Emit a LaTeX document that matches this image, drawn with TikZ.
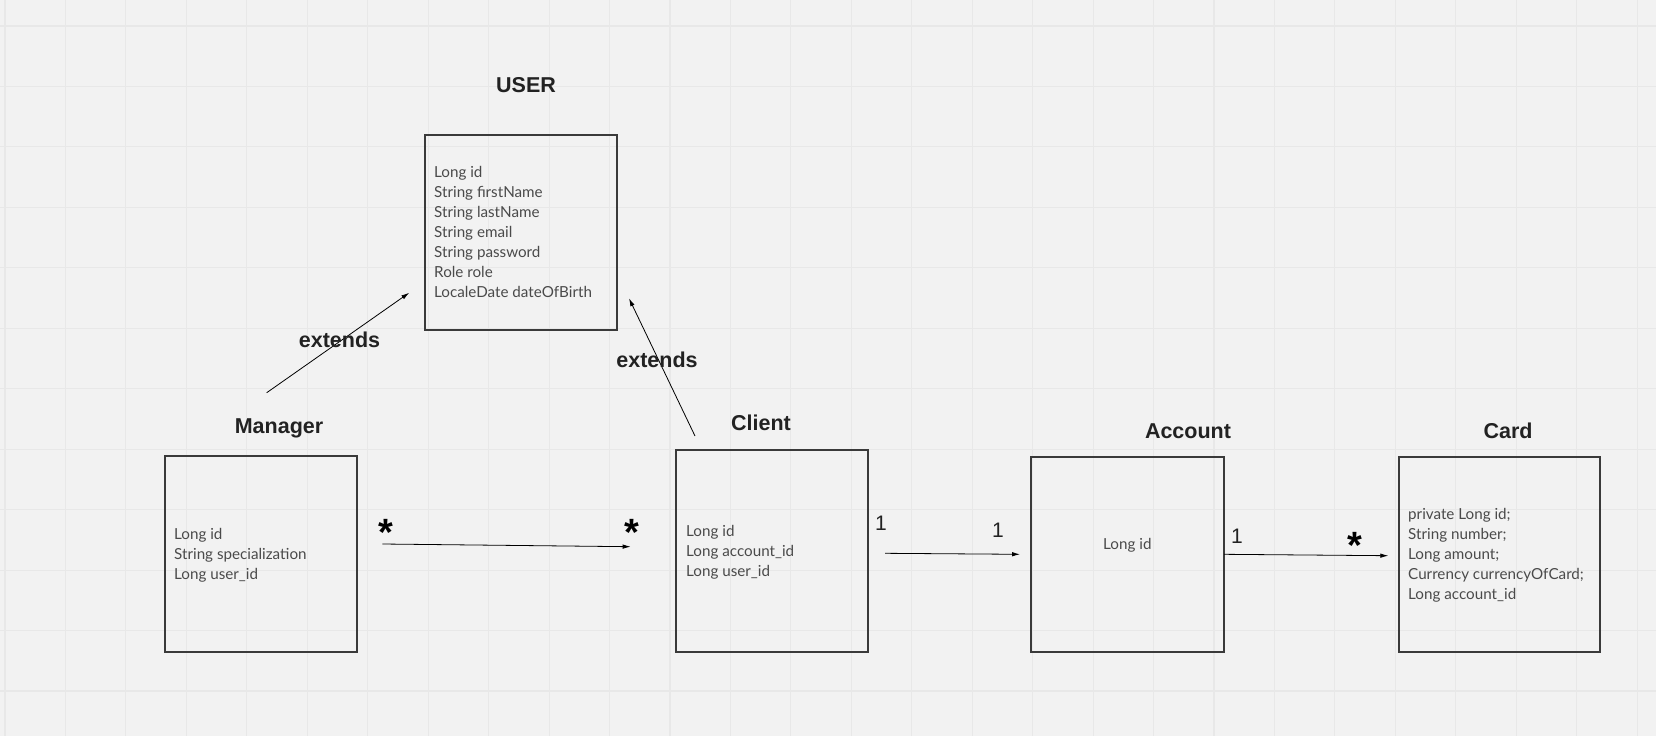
\documentclass[tikz,border=0pt]{standalone}
\usepackage{fontspec}
\setmainfont{Liberation Sans}
\newfontfamily\fieldfont{Lato}
\usetikzlibrary{arrows.meta}
\definecolor{bg}{HTML}{F2F2F2}
\definecolor{gridc}{HTML}{E8E8E8}
\definecolor{boxc}{HTML}{3A3A3A}
\definecolor{fieldc}{HTML}{4A4A4A}
\definecolor{titlec}{HTML}{222222}
\begin{document}
\begin{tikzpicture}[x=1pt,y=-1pt,
  classbox/.style={draw=boxc, line width=1.3pt, inner sep=0pt, outer sep=0pt, anchor=north west},
  fields/.style={font=\fieldfont\fontsize{15.2}{20}\selectfont, text=fieldc, align=left, inner sep=0pt, anchor=north west},
  title/.style={font=\bfseries\fontsize{21.5}{24}\selectfont, text=titlec, inner sep=0pt, anchor=base},
  extlabel/.style={font=\bfseries\fontsize{21.5}{24}\selectfont, text=titlec, inner sep=0pt, anchor=base},
  mult/.style={font=\fontsize{21}{24}\selectfont, text=titlec, inner sep=0pt, anchor=base},
  star/.style={font=\bfseries\fontsize{38}{40}\selectfont, text=black, inner sep=0pt, anchor=base},
  conn/.style={draw=black, line width=0.8pt, -{Latex[length=8pt,width=4.5pt]}}
]
\fill[bg] (0,0) rectangle (1656,736);
\useasboundingbox (0,0) rectangle (1656,736);
\foreach \i in {0,...,27} \draw[gridc, line width=1.1pt] ({5+60.45*\i},0) -- ({5+60.45*\i},736);
\foreach \j in {0,...,12} \draw[gridc, line width=1.1pt] (0,{26+60.45*\j}) -- (1656,{26+60.45*\j});

% boxes
\node[classbox, minimum width=192pt, minimum height=195pt] (user) at (425,135) {};
\node[classbox, minimum width=192pt, minimum height=196pt] (manager) at (165,456) {};
\node[classbox, minimum width=192pt, minimum height=202pt] (client) at (676,450) {};
\node[classbox, minimum width=193pt, minimum height=195pt] (account) at (1031,457) {};
\node[classbox, minimum width=201pt, minimum height=195pt] (card) at (1399,457) {};

% titles
\node[title] (usert) at (526,92) {USER};
\node[title] (managert) at (279,433) {Manager};
\node[title] (clientt) at (761,430) {Client};
\node[title] (accountt) at (1188,438) {Account};
\node[title] (cardt) at (1508,438) {Card};

% fields
\node[fields] (userf) at (434,166) {Long id\\String firstName\\String lastName\\String email\\String password\\Role role\\LocaleDate dateOfBirth};
\node[fields] (managerf) at (174,528) {Long id\\String specialization\\Long user\_id};
\node[fields] (clientf) at (686,525) {Long id\\Long account\_id\\Long user\_id};
\node[fields] (accountf) at (1103,538) {Long id};
\node[fields] (cardf) at (1408,508) {private Long id;\\String number;\\Long amount;\\Currency currencyOfCard;\\Long account\_id};

% connector ends
\coordinate (e1s) at (266.7,392.7);
\coordinate (e1t) at (409.3,292.7);
\coordinate (e2s) at (695,436);
\coordinate (e2t) at (629,298.3);
\coordinate (mcs) at (382.3,544);
\coordinate (mct) at (630.7,546.7);
\coordinate (cas) at (885,553.3);
\coordinate (cat) at (1020,554.3);
\coordinate (act) at (1388.3,555.7);

\draw[conn] (e1s) -- (e1t);
\draw[conn] (e2s) -- (e2t);
\draw[conn] (mcs) -- (mct);
\draw[conn] (cas) -- (cat);
\draw[conn] (account.east |- 0,554.3) -- (act);

% labels
\node[extlabel] (ext1) at (339.5,347) {extends};
\node[extlabel] (ext2) at (657,367) {extends};

\node[star] (s1) at (385.7,545.5) {*};
\node[star] (s2) at (632,545.5) {*};
\node[star] (s3) at (1355,558) {*};
\node[mult] (m1) at (881,530) {1};
\node[mult] (m2) at (998,537) {1};
\node[mult] (m3) at (1237,543) {1};
\end{tikzpicture}
\end{document}
